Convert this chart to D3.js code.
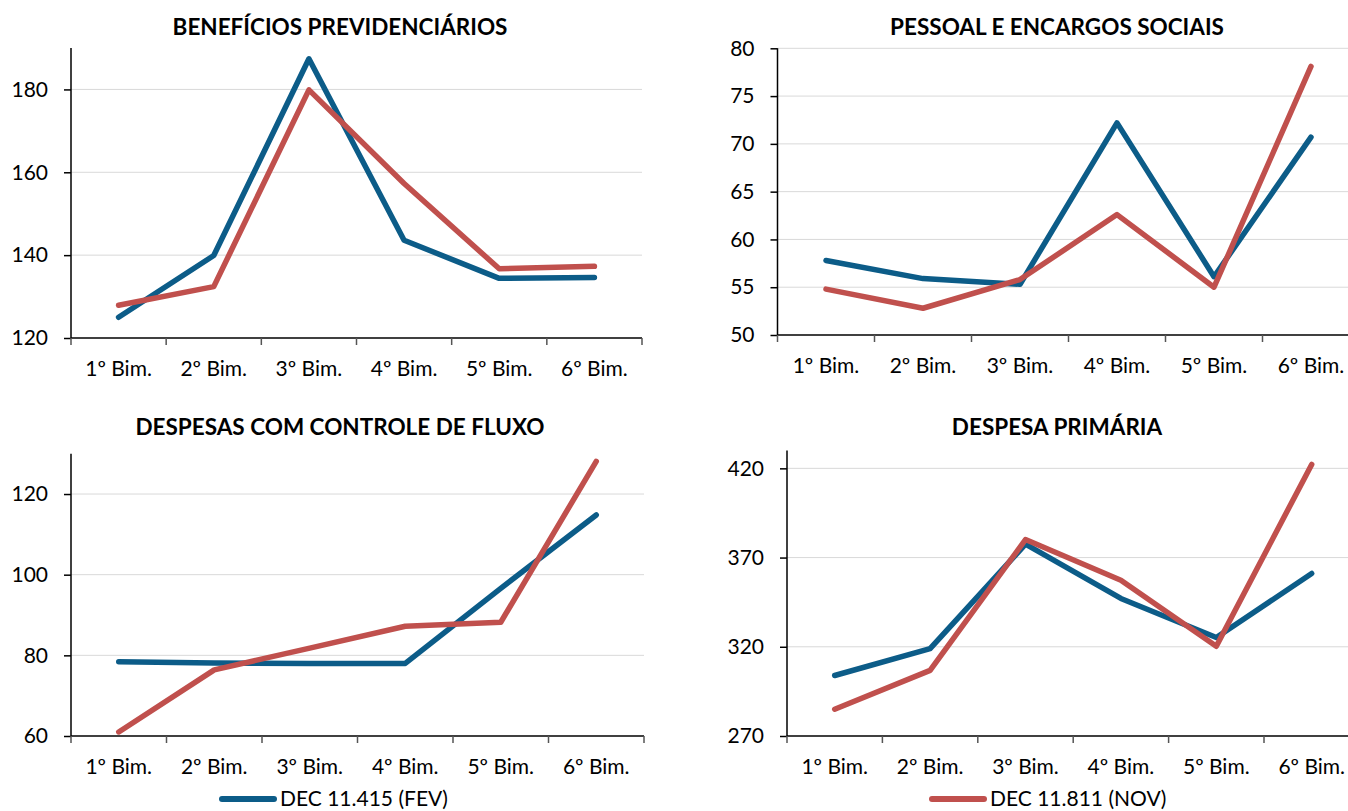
<!DOCTYPE html>
<html>
<head>
<meta charset="utf-8">
<script src="https://cdn.jsdelivr.net/npm/d3@7"></script>
<style>
  html, body { margin: 0; padding: 0; background: #fff; }
  svg { display: block; }
  text { font-family: Lato, "Open Sans", sans-serif; fill: #000; }
</style>
</head>
<body>
<svg id="chart" width="1348" height="811"></svg>
<script>
// ---- data ----
const categories = ["1º Bim.", "2º Bim.", "3º Bim.", "4º Bim.", "5º Bim.", "6º Bim."];
const seriesNames = ["DEC 11.415 (FEV)", "DEC 11.811 (NOV)"];
const panelTitles = ["BENEFÍCIOS PREVIDENCIÁRIOS", "PESSOAL E ENCARGOS SOCIAIS", "DESPESAS COM CONTROLE DE FLUXO", "DESPESA PRIMÁRIA"];

const beneficiosFev = [125.0, 139.9, 187.4, 143.6, 134.4, 134.6];
const beneficiosNov = [127.9, 132.4, 179.9, 157.3, 136.7, 137.3];
const pessoalFev = [57.8, 55.9, 55.3, 72.2, 56.1, 70.7];
const pessoalNov = [54.8, 52.8, 55.8, 62.6, 55.0, 78.1];
const fluxoFev = [78.4, 78.1, 78.0, 78.0, 96.6, 114.8];
const fluxoNov = [61.0, 76.4, 81.8, 87.2, 88.2, 128.1];
const primariaFev = [303.9, 319.0, 377.5, 347.1, 325.2, 361.1];
const primariaNov = [285.0, 306.8, 380.1, 357.3, 320.3, 422.2];

const beneficiosTicks = [120, 140, 160, 180];
const pessoalTicks = [50, 55, 60, 65, 70, 75, 80];
const fluxoTicks = [60, 80, 100, 120];
const primariaTicks = [270, 320, 370, 420];

const beneficiosDomain = [120, 190];
const pessoalDomain = [50, 80];
const fluxoDomain = [60, 130];
const primariaDomain = [270, 430];

// ---- layout / style ----
const colors = ["#0C5C88", "#C0504D"];
const svg = d3.select("#chart");

const panels = [
  { title: panelTitles[0], series: [beneficiosFev, beneficiosNov], ticks: beneficiosTicks, domain: beneficiosDomain,
    x0: 71, x1: 642, y0: 48, y1: 338, titleX: 340, titleY: 35 },
  { title: panelTitles[1], series: [pessoalFev, pessoalNov], ticks: pessoalTicks, domain: pessoalDomain,
    x0: 777.5, x1: 1359.5, y0: 48.3, y1: 335, titleX: 1057, titleY: 35 },
  { title: panelTitles[2], series: [fluxoFev, fluxoNov], ticks: fluxoTicks, domain: fluxoDomain,
    x0: 71, x1: 644, y0: 453.7, y1: 736, titleX: 340, titleY: 435 },
  { title: panelTitles[3], series: [primariaFev, primariaNov], ticks: primariaTicks, domain: primariaDomain,
    x0: 787, x1: 1359.4, y0: 450.5, y1: 736, titleX: 1057, titleY: 435 }
];

panels.forEach(p => {
  const g = svg.append("g");
  const x = d3.scaleBand().domain(categories).range([p.x0, p.x1]).paddingInner(0).paddingOuter(0);
  const y = d3.scaleLinear().domain(p.domain).range([p.y1, p.y0]);

  // gridlines
  g.append("g").selectAll("line")
    .data(p.ticks.filter(t => t !== p.domain[0]))
    .join("line")
    .attr("x1", p.x0).attr("x2", p.x1)
    .attr("y1", d => y(d)).attr("y2", d => y(d))
    .attr("stroke", "#D9D9D9").attr("stroke-width", 1);

  // y axis
  const yAxis = d3.axisLeft(y).tickValues(p.ticks).tickSize(7).tickPadding(16).tickFormat(d3.format("d"));
  const ya = g.append("g").attr("transform", `translate(${p.x0},0)`).call(yAxis);
  ya.select(".domain").attr("stroke", "#000").attr("stroke-width", 1.5).attr("d", `M0,${p.y0}V${p.y1}`);
  ya.selectAll(".tick line").attr("stroke", "#000").attr("stroke-width", 1.5);
  ya.selectAll(".tick text").style("font-size", "21px").style("font-family", "Lato, sans-serif").attr("fill", "#000");

  // x axis (labels centered in band, tick marks at band edges)
  const xAxis = d3.axisBottom(x).tickSize(0).tickPadding(23);
  const xa = g.append("g").attr("transform", `translate(0,${p.y1})`).call(xAxis);
  xa.select(".domain").attr("stroke", "#000").attr("stroke-width", 1.5).attr("d", `M${p.x0},0H${p.x1}`);
  xa.selectAll(".tick text").style("font-size", "21px").style("font-family", "Lato, sans-serif").attr("fill", "#000");
  const edges = categories.map(c => x(c)).concat([x(categories[categories.length - 1]) + x.bandwidth()]);
  g.append("g").selectAll("line").data(edges).join("line")
    .attr("x1", d => d).attr("x2", d => d)
    .attr("y1", p.y1).attr("y2", p.y1 + 7)
    .attr("stroke", "#555").attr("stroke-width", 1.5);

  // lines
  const line = d3.line()
    .x((d, i) => x(categories[i]) + x.bandwidth() / 2)
    .y(d => y(d));
  p.series.forEach((s, si) => {
    g.append("path").datum(s)
      .attr("d", line)
      .attr("fill", "none")
      .attr("stroke", colors[si])
      .attr("stroke-width", 5.5)
      .attr("stroke-linejoin", "round")
      .attr("stroke-linecap", "round");
  });

  // title
  g.append("text")
    .attr("x", p.titleX).attr("y", p.titleY)
    .attr("text-anchor", "middle")
    .style("font-size", "22.5px").style("font-weight", "bold")
    .text(p.title);
});

// legend
const legendItems = [
  { name: seriesNames[0], color: colors[0], lx: 222, tx: 280 },
  { name: seriesNames[1], color: colors[1], lx: 932, tx: 990 }
];
const lg = svg.append("g");
legendItems.forEach(it => {
  lg.append("line")
    .attr("x1", it.lx).attr("x2", it.lx + 52)
    .attr("y1", 799).attr("y2", 799)
    .attr("stroke", it.color).attr("stroke-width", 6).attr("stroke-linecap", "round");
  lg.append("text")
    .attr("x", it.tx).attr("y", 806)
    .style("font-size", "21px")
    .text(it.name);
});
</script>
</body>
</html>
